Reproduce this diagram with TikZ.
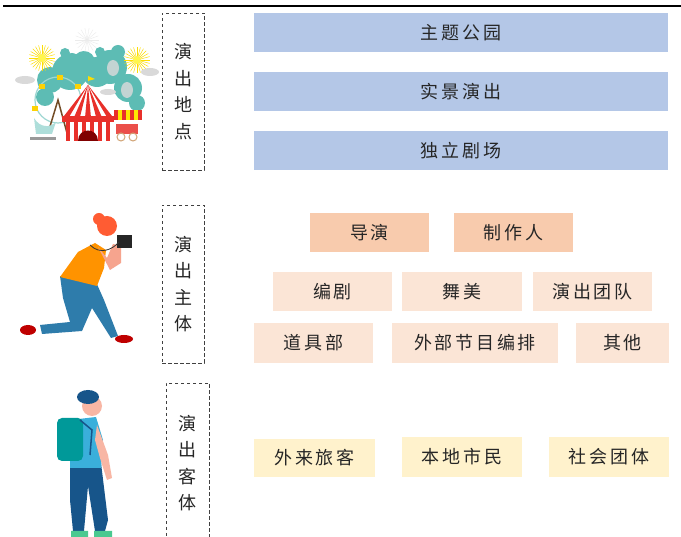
\documentclass[tikz,border=0pt]{standalone}
\usepackage{fontspec}
\newfontfamily\cjk{Noto Sans CJK SC}
\newfontfamily\cjkwide[LetterSpace=15]{Noto Sans CJK SC}
\usepackage{tikz}
\definecolor{parkblue}{HTML}{B4C7E7}
\definecolor{leadpeach}{HTML}{F8CBAD}
\definecolor{crewpeach}{HTML}{FBE5D6}
\definecolor{guestyellow}{HTML}{FFF2CC}
\definecolor{teal1}{HTML}{5DBCB4}
\definecolor{tentred}{HTML}{E8302A}
\definecolor{jeans}{HTML}{2E7CAB}
\definecolor{navy}{HTML}{17558A}
\definecolor{skin}{HTML}{F6A48E}
\tikzset{
    blk/.style={minimum height=39pt, inner sep=0pt, font=\cjkwide\fontsize{18}{20}\selectfont, text=black!85},
    place/.style={blk, fill=parkblue, minimum width=414pt},
    lead/.style={blk, fill=leadpeach, minimum width=119pt},
    crew/.style={blk, fill=crewpeach, minimum width=119pt},
    guest/.style={blk, fill=guestyellow, minimum width=120pt, minimum height=40pt},
    tag/.style={draw=black!75, dash pattern=on 3.5pt off 2.5pt, line width=0.9pt, minimum width=42pt,
        minimum height=157pt, align=center, font=\cjk\fontsize{18}{26.5}\selectfont, text=black!85},
    firework/.style={yellow!80!orange, line width=0.5pt}
}

\begin{document}
\begin{tikzpicture}[x=1pt, y=-1pt]
    \clip (0,0) rectangle (681,537);
    \fill[white] (0,0) rectangle (681,537);
    \draw[line width=2.2pt] (3,6) -- (681,6);

    % carnival
    \foreach \cx/\cy/\r in {70/72/18, 97/72/15, 110/67/17, 128/88/14, 65/53/5, 72/60/7, 118/52/7, 137/103/8, 50/80/13, 84/62/11, 45/97/9, 100/52/5}
        \fill[teal1] (\cx,\cy) circle (\r);
    \foreach \cx/\cy in {42/58, 137/60} {
        \foreach \a in {0,15,...,345}
            \draw[firework] (\cx,\cy) -- ++(\a:13);
        \fill[yellow!70] (\cx,\cy) circle (4);
    }
    \foreach \a in {0,20,...,340}
        \draw[black!8, line width=0.4pt] (87,40) -- ++(\a:12);
    \fill[black!15] (25,80) ellipse (10 and 4) (150,72) ellipse (9 and 4) (108,92) ellipse (8 and 3);
    \fill[teal1!60!black!30] (113,68) ellipse (6 and 8) (127,90) ellipse (6 and 8);
    \draw[teal1!60, line width=1.2pt] (58,100) circle (23);
    \draw[brown!60!black, line width=1.5pt] (48,133) -- (58,100) -- (67,133);
    \foreach \gx/\gy in {42/84, 60/75, 78/84, 35/106}
        \fill[yellow!70!orange] (\gx-3,\gy) rectangle (\gx+3,\gy+5);
    \fill[teal1!50] (34,118) .. controls (40,128) and (50,128) .. (56,122) -- (52,134) -- (36,134) -- cycle;
    \fill[black!40] (30,137) rectangle (56,140);
    \fill[white] (88,85) -- (64,118) -- (112,118) -- cycle;
    \foreach \s in {-18,-9,0,9,18}
        \fill[tentred] (88,85) -- (88+\s*1.25-3,118) -- (88+\s*1.25+3,118) -- cycle;
    \fill[tentred] (62,116) rectangle (114,122);
    \fill[white] (66,122) rectangle (110,141);
    \foreach \sx in {66,74,...,106}
        \fill[tentred] (\sx,122) rectangle (\sx+4,141);
    \fill[red!50!black] (78,141) .. controls (78,127) and (98,127) .. (98,141) -- cycle;
    \fill[yellow!80!orange] (88,85) -- (88,76) -- (95,79) -- (88,81);
    \fill[yellow!90!orange] (114,110) rectangle (141,120);
    \foreach \sx in {114,122,...,138}
        \fill[tentred] (\sx,110) rectangle (\sx+4,120);
    \fill[tentred!85] (116,124) rectangle (138,134);
    \draw[brown!70, line width=1pt] (121,137) circle (4) (133,137) circle (4);

    % photographer
    \fill[jeans] (60,276) -- (96,282) -- (104,300) -- (118,336) -- (111,338) -- (92,308) -- (82,331)
        -- (42,334) -- (40,325) -- (70,322) -- (63,298) -- cycle;
    \fill[red!75!black] (28,330) ellipse (8 and 5) (124,339) ellipse (9 and 4);
    \fill[orange!85!yellow] (60,277) -- (78,252) -- (95,243) -- (106,250) -- (104,268) -- (97,286) -- cycle;
    \fill[skin] (98,247) -- (110,270) -- (121,263) -- (121,246) -- (113,244) -- (107,258) -- cycle;
    \fill[red!60!orange!80] (107,226) circle (10) (99,219) circle (6);
    \fill[black!85] (117,235) rectangle (132,248);
    \draw[black!80, line width=0.8pt] (90,245) .. controls (100,255) and (112,250) .. (119,242);

    % traveller
    \fill[navy] (70,463) -- (101,463) -- (108,520) -- (105,531) -- (95,531) -- (88,486) -- (84,531)
        -- (73,531) -- (70,500) -- cycle;
    \fill[teal1!80!green] (71,531) rectangle (88,537) (94,531) rectangle (112,537);
    \fill[cyan!60!teal1] (70,420) -- (96,417) -- (103,440) -- (101,468) -- (70,468) -- cycle;
    \fill[skin!80] (97,425) -- (108,455) -- (112,478) -- (107,480) -- (100,458) -- (95,440) -- cycle;
    \fill[skin!80] (92,406) circle (10);
    \fill[navy] (88,397) ellipse (11 and 7);
    \fill[teal!80!cyan, rounded corners=5pt] (57,418) rectangle (83,461);
    \draw[navy, line width=1.5pt] (80,420) -- (92,430) -- (90,455);

    % side tags
    \node[tag] (venue) at (183,91.5) {演\\出\\地\\点};
    \node[tag, minimum height=158pt] (makers) at (183,284) {演\\出\\主\\体};
    \node[tag, minimum width=43pt, minimum height=160pt] (audience) at (187.5,463) {演\\出\\客\\体};

    % venues
    \node[place] (park) at (461,33) {主题公园};
    \node[place] (scene) at (461,92) {实景演出};
    \node[place] (theatre) at (461,150.5) {独立剧场};

    % makers
    \node[lead] (director) at (369.5,232.5) {导演};
    \node[lead] (producer) at (513.5,232.5) {制作人};
    \node[crew] (writer) at (332.5,291.5) {编剧};
    \node[crew, minimum width=120pt] (stage) at (462,291.5) {舞美};
    \node[crew] (troupe) at (592.5,291.5) {演出团队};
    \node[crew, minimum height=40pt] (props) at (313.5,343) {道具部};
    \node[crew, minimum width=166pt, minimum height=40pt] (program) at (475,343) {外部节目编排};
    \node[crew, minimum width=93pt, minimum height=40pt] (others) at (622.5,343) {其他};

    % audience
    \node[guest, minimum width=121pt, minimum height=38pt] (tourists) at (314.5,458) {外来旅客};
    \node[guest] (locals) at (462,457) {本地市民};
    \node[guest] (groups) at (609,457) {社会团体};
\end{tikzpicture}
\end{document}
